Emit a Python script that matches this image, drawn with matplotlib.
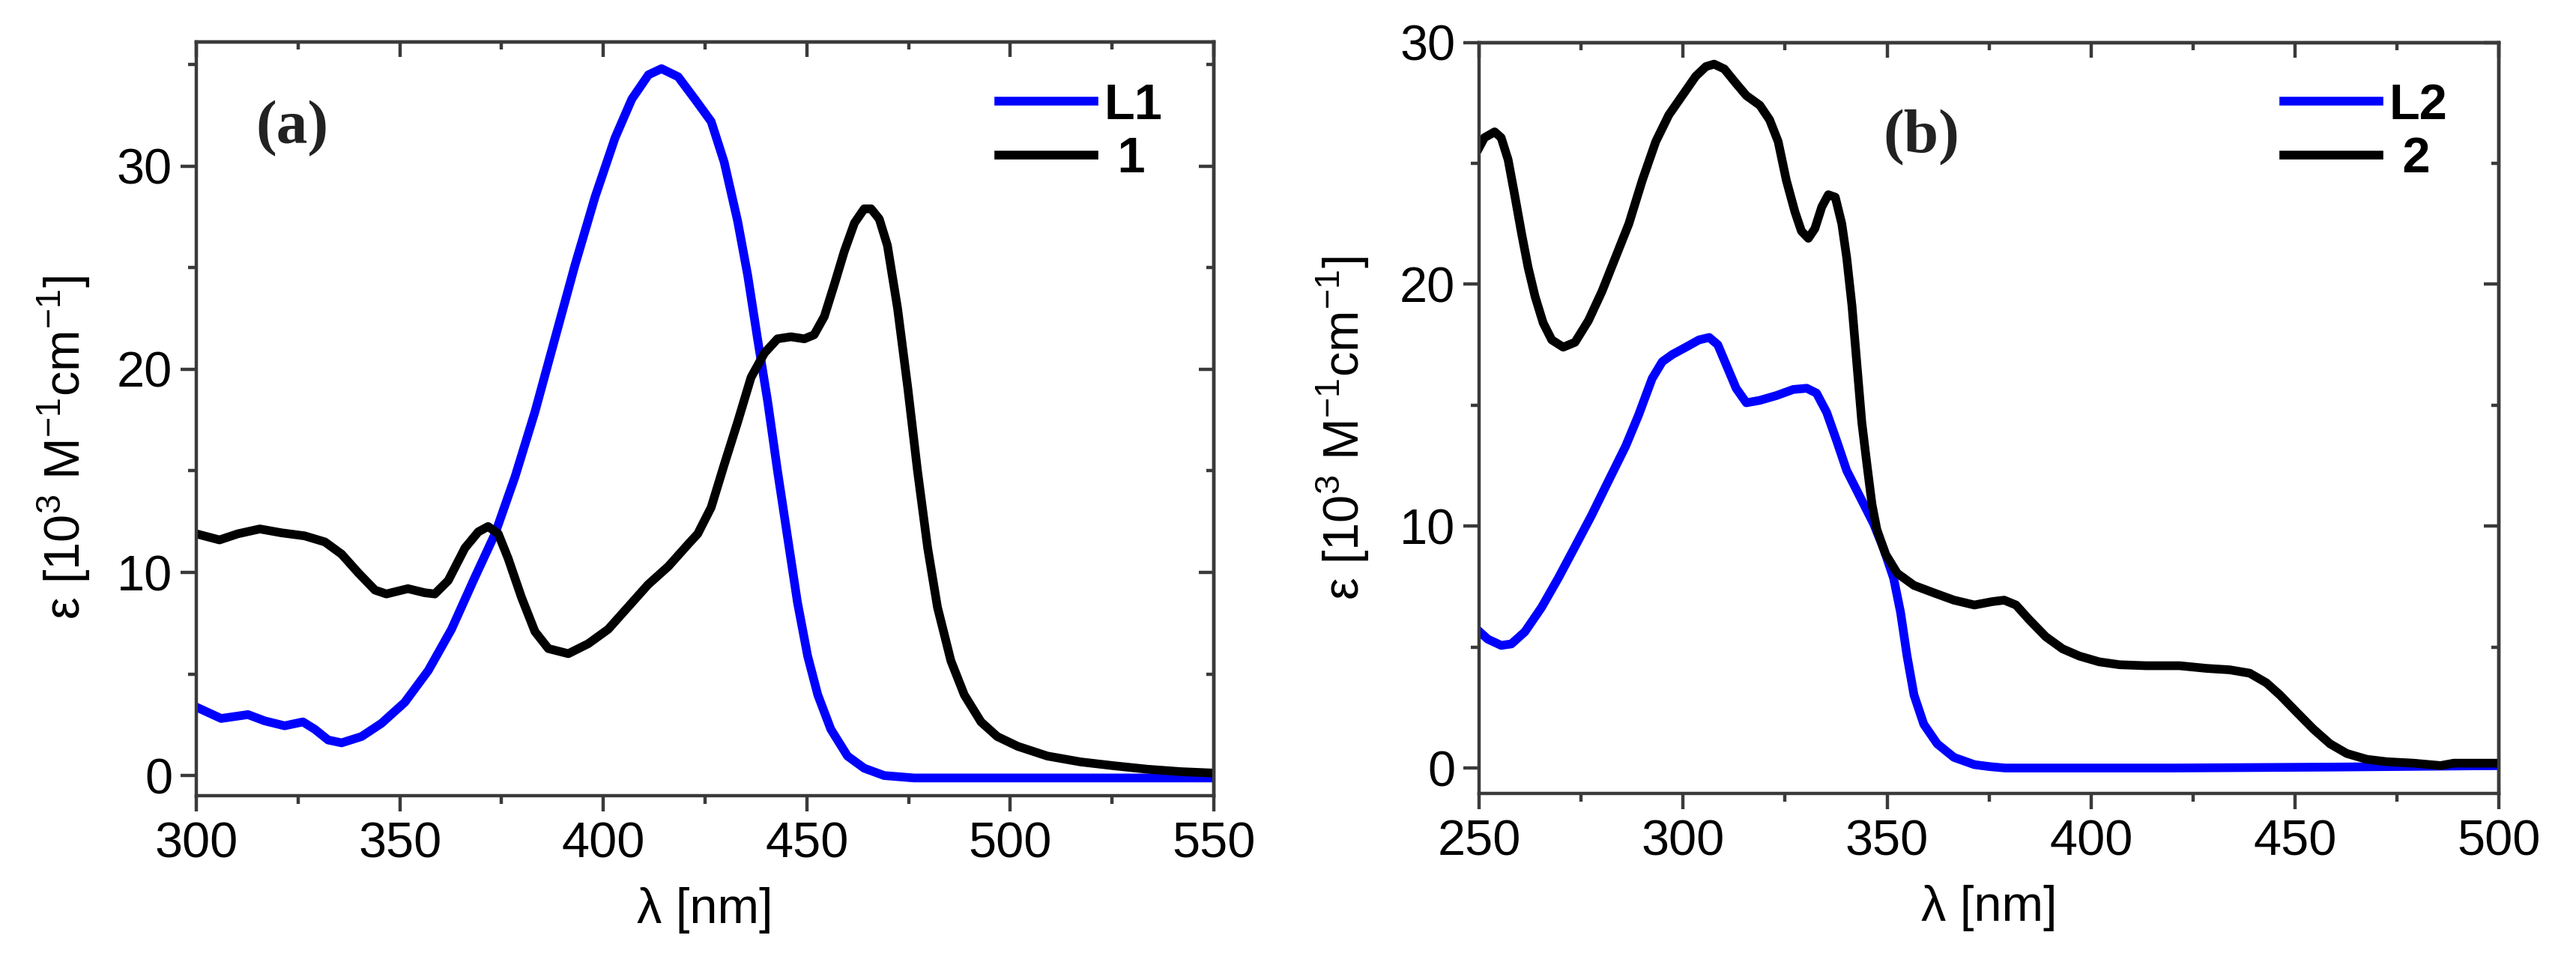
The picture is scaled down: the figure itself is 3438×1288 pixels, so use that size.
import matplotlib
matplotlib.use("Agg")
import matplotlib.pyplot as plt
from matplotlib.ticker import MultipleLocator

plt.rcParams['font.family'] = ['Liberation Sans', 'DejaVu Sans']
plt.rcParams['mathtext.fontset'] = 'custom'
plt.rcParams['mathtext.rm'] = 'Liberation Sans'
plt.rcParams['mathtext.it'] = 'Liberation Sans:italic'
plt.rcParams['mathtext.bf'] = 'Liberation Sans:bold'

# panel (a): ligand L1 and complex 1
wl_L1 = [300, 306.1, 312.7, 316.8, 321.7, 326.2, 329.1, 332.4, 335.7, 340.6,
         345.5, 351.2, 357, 362.7, 368.4, 373.4, 378.3, 383.2, 388.1, 393,
         398, 402.9, 407, 411.1, 414.3, 418.4, 422.5, 426.5, 429.7, 433,
         435.5, 437.9, 440.4, 442.8, 445.3, 447.7, 450.2, 452.7, 455.9, 460,
         464.1, 469, 476.4, 488.7, 550]
eps_L1 = [3.37, 2.81, 3.0, 2.69, 2.45, 2.64, 2.28, 1.75, 1.61, 1.92,
          2.57, 3.6, 5.17, 7.2, 9.74, 11.9, 14.7, 17.9, 21.5, 25.1,
          28.5, 31.4, 33.3, 34.5, 34.8, 34.4, 33.3, 32.2, 30.2, 27.3,
          24.6, 21.5, 18.4, 15.0, 11.7, 8.53, 5.89, 3.97, 2.28, 0.96,
          0.36, 0.0, -0.12, -0.12, -0.12]

wl_1 = [300, 305.7, 310.2, 315.6, 320.9, 326.6, 331.6, 335.7, 339.8, 343.9,
        346.7, 352, 356.1, 358.6, 361.9, 366, 369.3, 371.7, 374.2, 376.6,
        379.9, 383.2, 386.5, 391.4, 396.3, 401.2, 406.1, 411, 416, 420.9,
        423.2, 426.5, 429.7, 433, 436.3, 439.6, 442.8, 446.1, 449.4, 451.8,
        454.3, 456.8, 459.2, 461.7, 464.1, 465.8, 467.8, 469.8, 472.3, 474.8,
        477.2, 479.7, 482.1, 485.4, 488.7, 492.8, 496.8, 501.8, 509.1, 517.3,
        525.5, 533.7, 541.9, 550]
eps_1 = [11.9, 11.6, 11.9, 12.14, 11.95, 11.8, 11.5, 10.9, 9.98, 9.13,
         8.94, 9.2, 9.0, 8.94, 9.6, 11.2, 12.0, 12.26, 11.9, 10.7,
         8.77, 7.09, 6.25, 6.0, 6.49, 7.2, 8.3, 9.4, 10.3, 11.4,
         11.9, 13.2, 15.3, 17.4, 19.6, 20.8, 21.5, 21.6, 21.5, 21.7,
         22.6, 24.2, 25.8, 27.2, 27.9, 27.9, 27.4, 26.1, 23.0, 19.1,
         15.0, 11.2, 8.29, 5.65, 3.97, 2.64, 1.92, 1.44, 0.96, 0.67,
         0.48, 0.31, 0.19, 0.12]

# panel (b): ligand L2 and complex 2
wl_L2 = [250, 252.1, 255.4, 257.9, 261.2, 265.3, 269.4, 273.5, 277.6, 281.7,
         285.9, 289.1, 292.4, 294.9, 297.4, 300.7, 303.9, 306.4, 308.5, 310.5,
         313, 315.5, 318.8, 322.9, 327, 330.3, 332.7, 335.2, 337.7, 340.1,
         343.4, 346.7, 349.2, 351.6, 353.3, 354.9, 356.6, 359, 362.3, 366.4,
         371.4, 375.1, 379, 420, 460, 500]
eps_L2 = [5.65, 5.33, 5.07, 5.13, 5.63, 6.64, 7.85, 9.15, 10.46, 11.87,
          13.3, 14.6, 16.1, 16.8, 17.1, 17.4, 17.7, 17.8, 17.5, 16.7,
          15.7, 15.1, 15.2, 15.4, 15.65, 15.7, 15.5, 14.7, 13.5, 12.3,
          11.2, 10.1, 9.05, 7.85, 6.44, 4.63, 3.02, 1.81, 1.0, 0.44,
          0.14, 0.06, 0.0, 0.0, 0.04, 0.1]

wl_2 = [250, 251.3, 253.8, 255.4, 257.1, 258.7, 260.4, 262, 263.7, 265.7,
        267.8, 270.6, 273.5, 276.8, 280.1, 283.4, 286.7, 290, 293.3, 296.5,
        299.8, 303.1, 305.6, 307.6, 310.1, 313, 315.5, 318.8, 321.2, 323.3,
        325.3, 327.4, 329, 330.7, 332.3, 334, 335.6, 337.3, 338.9, 340.1,
        341.4, 342.6, 343.8, 345.1, 346.3, 347.5, 349.6, 352.5, 356.6, 361.5,
        366.4, 371.4, 375.8, 378.7, 381.6, 384.8, 388.9, 393, 397.1, 402,
        407, 413.5, 421.7, 428.3, 434, 438.9, 443, 446.3, 450.4, 454.5,
        458.6, 462.7, 467.6, 472.5, 479.1, 485.7, 488.9, 495.5, 500]
eps_2 = [25.65, 26.06, 26.3, 26.06, 25.15, 23.7, 22.1, 20.7, 19.5, 18.4,
         17.7, 17.4, 17.6, 18.5, 19.7, 21.1, 22.5, 24.3, 25.9, 27.0,
         27.8, 28.6, 29.0, 29.1, 28.9, 28.3, 27.8, 27.4, 26.8, 25.9,
         24.3, 23.0, 22.2, 21.9, 22.3, 23.2, 23.7, 23.6, 22.5, 21.1,
         19.1, 16.7, 14.3, 12.5, 10.9, 9.86, 8.85, 8.05, 7.55, 7.24,
         6.94, 6.74, 6.88, 6.94, 6.74, 6.14, 5.43, 4.93, 4.63, 4.39,
         4.27, 4.23, 4.23, 4.12, 4.06, 3.92, 3.52, 3.02, 2.31, 1.61,
         1.0, 0.6, 0.36, 0.26, 0.2, 0.1, 0.2, 0.2, 0.2]

fig = plt.figure(figsize=(17.19, 6.44), dpi=200)
ax_a = fig.add_axes([0.0762, 0.1755, 0.395, 0.7807])
ax_b = fig.add_axes([0.5742, 0.1778, 0.3959, 0.7783])

spine_col = '#3a3a3a'
lw_axis = 1.6


def mirror_ticks(sec, axis, maj):
    loc = sec.xaxis if axis == 'x' else sec.yaxis
    loc.set_major_locator(MultipleLocator(maj))
    loc.set_minor_locator(MultipleLocator(maj / 2))
    sec.tick_params(which='both', direction='in', width=lw_axis, color=spine_col,
                    labeltop=False, labelright=False)
    sec.tick_params(which='major', length=7.2)
    sec.tick_params(which='minor', length=3.6)
    for s in sec.spines.values():
        s.set_linewidth(lw_axis)
        s.set_color(spine_col)


def style_axes(ax, xlim, ylim, xmaj, ymaj, ylab_xy):
    ax.set_xlim(*xlim)
    ax.set_ylim(*ylim)
    ax.xaxis.set_major_locator(MultipleLocator(xmaj))
    ax.xaxis.set_minor_locator(MultipleLocator(xmaj / 2))
    ax.yaxis.set_major_locator(MultipleLocator(ymaj))
    ax.yaxis.set_minor_locator(MultipleLocator(ymaj / 2))
    for s in ax.spines.values():
        s.set_linewidth(lw_axis)
        s.set_color(spine_col)
    ax.tick_params(which='both', direction='out', width=lw_axis, color=spine_col,
                   labelsize=24, labelcolor='black')
    ax.tick_params(axis='x', pad=5)
    ax.tick_params(axis='y', pad=4)
    ax.tick_params(which='major', length=7.5)
    ax.tick_params(which='minor', length=4)
    mirror_ticks(ax.secondary_xaxis('top'), 'x', xmaj)
    mirror_ticks(ax.secondary_yaxis('right'), 'y', ymaj)
    ax.set_xlabel('λ [nm]', fontsize=24, labelpad=9)
    ax.set_ylabel('ε [10$^3$ M$^{-1}$cm$^{-1}$]', fontsize=24)
    ax.yaxis.set_label_coords(*ylab_xy)


def add_legend(ax):
    ax.legend(loc='upper left', bbox_to_anchor=(0.789, 0.946), frameon=False,
              prop={'size': 24, 'weight': 'bold'}, handlelength=1.9,
              handletextpad=0.2, labelspacing=0.14, borderpad=0,
              borderaxespad=0)


lw = 4.2
ax_a.plot(wl_L1, eps_L1, color='#0000ff', lw=lw, label='L1', solid_joinstyle='round')
ax_a.plot(wl_1, eps_1, color='black', lw=lw, label=' 1', solid_joinstyle='round')
style_axes(ax_a, (300, 550), (-0.99, 36.1), 50, 10, (-0.102, 0.462))
ax_a.text(0.0585, 0.885, '(a)', transform=ax_a.transAxes, fontsize=30,
          fontweight='bold', family='Liberation Serif', va='center', color='#222222')
add_legend(ax_a)

ax_b.plot(wl_L2, eps_L2, color='#0000ff', lw=lw, label='L2', solid_joinstyle='round')
ax_b.plot(wl_2, eps_2, color='black', lw=lw, label=' 2', solid_joinstyle='round')
style_axes(ax_b, (250, 500), (-1.05, 30), 50, 10, (-0.106, 0.486))
ax_b.text(0.396, 0.873, '(b)', transform=ax_b.transAxes, fontsize=30,
          fontweight='bold', family='Liberation Serif', va='center', color='#222222')
add_legend(ax_b)

fig.savefig('out.png', dpi=200)
